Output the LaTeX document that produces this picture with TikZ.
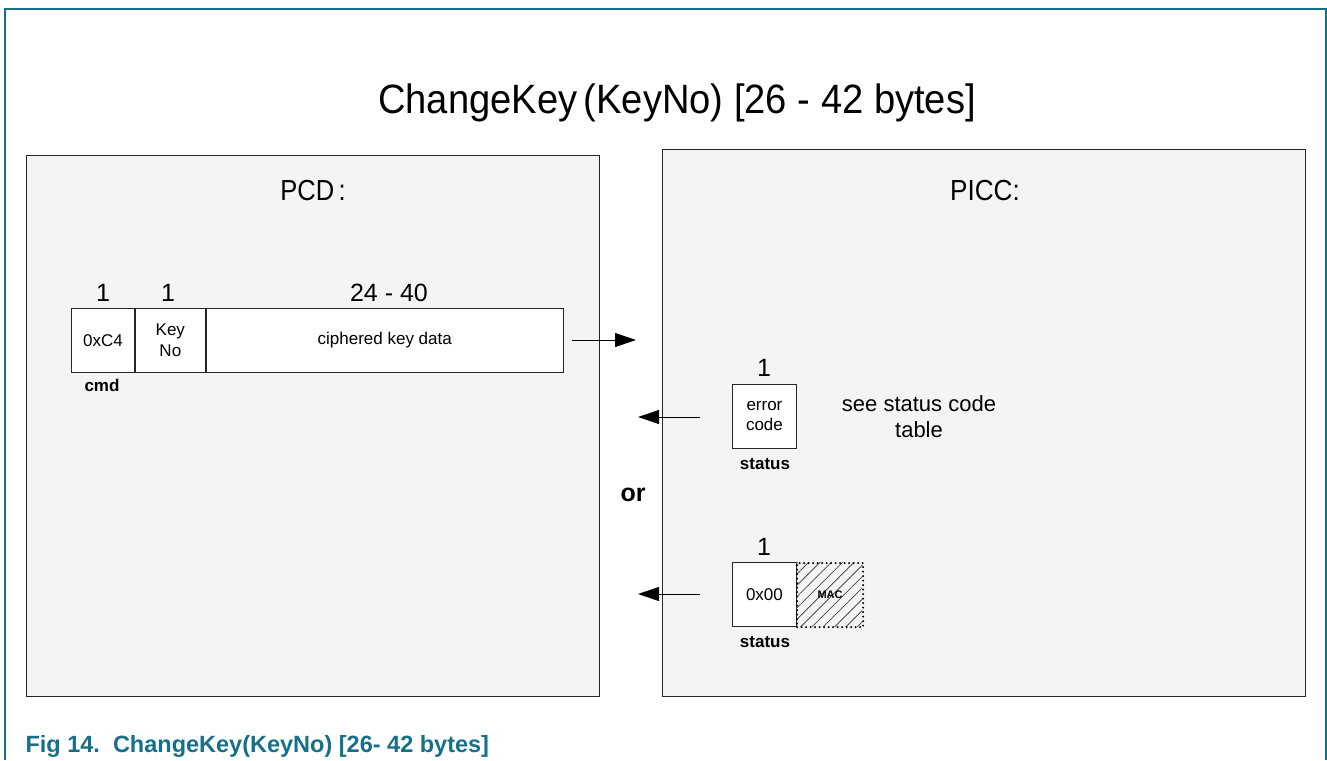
\documentclass[tikz,border=0pt]{standalone}
\usepackage{fontspec}
\setmainfont{Liberation Sans}
\usetikzlibrary{arrows.meta,patterns.meta}
\definecolor{tealc}{HTML}{17708A}
\definecolor{panelfill}{HTML}{F4F4F4}
\definecolor{macfill}{HTML}{EFEFE8}
\begin{document}
\begin{tikzpicture}[x=1pt,y=-1pt,
  panel/.style={draw=black!85, line width=1.3pt, fill=panelfill, anchor=north west, inner sep=0pt},
  cell/.style={draw=black!85, line width=0.9pt, fill=white, anchor=north west, inner sep=0pt, minimum height=64pt, align=center, font=\fontsize{17}{19}\selectfont},
  num/.style={anchor=base, font=\fontsize{25}{28}\selectfont},
  lbl/.style={anchor=base, font=\fontsize{17}{19}\selectfont\bfseries},
  msg/.style={-{Triangle[length=21pt,width=14pt]}, line width=1pt},
  ]
\useasboundingbox (0,0) rectangle (1327,760);
% outer frame
\draw[tealc, line width=1.5pt] (5,760) -- (5,9) -- (1326,9) -- (1326,760);
% title
\node[anchor=base, font=\fontsize{41}{48}\selectfont] (title) at (677,113) {\scalebox{0.93}[1]{ChangeKey\,(KeyNo) [26 - 42 bytes]}};
% panels
\node[panel, minimum width=573pt, minimum height=541pt] (pcd) at (26,155) {};
\node[panel, minimum width=643pt, minimum height=547pt] (picc) at (662,149) {};
\node[anchor=base, font=\fontsize{29}{34}\selectfont] (pcdlbl) at (313,200) {\scalebox{0.88}[1]{PCD\,:}};
\node[anchor=base, font=\fontsize{29}{34}\selectfont] (picclbl) at (985,200) {\scalebox{0.9}[1]{PICC:}};
% command frame
\node[cell, minimum width=63pt] (c1) at (71,308) {0xC4};
\node[cell, minimum width=70pt] (c2) at (c1.north east) {Key\\[2pt]No};
\node[cell, minimum width=357pt] (c3) at (c2.north east) {ciphered key data};
\node[num] (n1) at (103,301) {1};
\node[num] (n2) at (168,301) {1};
\node[num] (n3) at (389,301) {24 - 40};
\node[lbl] (cmd) at (102,391) {cmd};
\coordinate (a1s) at (572,340);
\coordinate (a1e) at (636,340);
\draw[msg] (a1s) -- (a1e);
% error response
\node[cell, minimum width=64pt] (err) at (732,384) {error\\[1pt]code};
\node[num] (n4) at (764,376) {1};
\node[lbl] (st1) at (765,469) {status};
\node[anchor=base, align=center, font=\fontsize{22}{26}\selectfont] (see) at (919,437) {see status code\\table};
\coordinate (a2s) at (700,417);
\coordinate (a2e) at (638,417);
\draw[msg] (a2s) -- (a2e);
% or
\node[anchor=base, font=\fontsize{25}{28}\selectfont\bfseries] (or) at (633,501) {or};
% ok response
\node[cell, minimum width=64pt] (ok) at (732,562) {0x00};
\node[anchor=north west, inner sep=0pt, minimum width=66pt, minimum height=64pt, fill=macfill,
  pattern={Lines[angle=45,distance=8pt,line width=0.8pt]}, pattern color=black!70] (macbg) at (796,562) {};
\node[anchor=north west, inner sep=0pt, minimum width=66pt, minimum height=64pt, draw, line width=2.2pt,
  line cap=round, dash pattern=on 0pt off 4.5pt, font=\fontsize{11}{13}\selectfont\bfseries] (mac) at (796,562) {MAC};
\node[num] (n5) at (764,555) {1};
\node[lbl] (st2) at (765,647) {status};
\coordinate (a3s) at (700,594);
\coordinate (a3e) at (638,594);
\draw[msg] (a3s) -- (a3e);
% caption
\node[anchor=base west, text=tealc, font=\fontsize{23.5}{28}\selectfont\bfseries] (cap) at (22,752) {Fig 14.\ \ ChangeKey(KeyNo) [26- 42 bytes]};
\end{tikzpicture}
\end{document}
